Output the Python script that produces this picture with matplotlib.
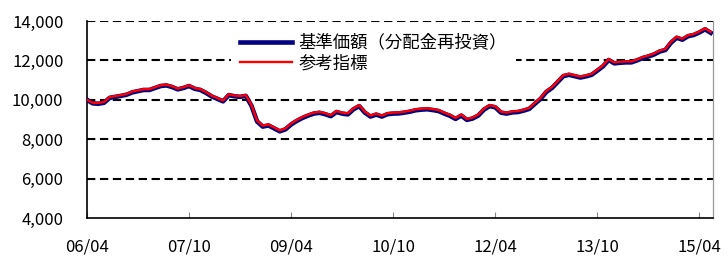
import matplotlib
matplotlib.use("Agg")
import matplotlib.pyplot as plt
import numpy as np

plt.rcParams["font.family"] = ["Noto Sans CJK JP", "DejaVu Sans"]

# ── data: monthly values, 2006/04 .. 2015/06 ─────────────────────────────────
start_year, start_month = 2006, 4

fund = [
    10000, 9820, 9800, 9850, 10100, 10150, 10200, 10260, 10380, 10440,
    10500, 10500, 10600, 10700, 10730, 10650, 10530, 10600, 10700, 10560,
    10500, 10350, 10170, 10050, 9920, 10240, 10180, 10150, 10200, 9700,
    8900, 8640, 8700, 8550, 8400, 8500, 8750, 8930, 9080, 9200,
    9300, 9340, 9270, 9170, 9380, 9300, 9260, 9520, 9680, 9350,
    9150, 9250, 9150, 9270, 9300, 9310, 9350, 9400, 9470, 9500,
    9520, 9480, 9430, 9300, 9190, 9030, 9200, 8980, 9050, 9200,
    9500, 9680, 9620, 9350, 9300, 9360, 9380, 9450, 9540, 9800,
    10050, 10400, 10600, 10900, 11200, 11270, 11200, 11130, 11190, 11270,
    11480, 11700, 12020, 11850, 11880, 11900, 11900, 12000, 12120, 12200,
    12300, 12450, 12530, 12900, 13150, 13050, 13230, 13290, 13420, 13580,
    13400,
]

benchmark = [
    10000, 9850, 9840, 9890, 10140, 10190, 10240, 10300, 10420, 10480,
    10540, 10540, 10640, 10740, 10770, 10690, 10570, 10640, 10740, 10600,
    10540, 10390, 10210, 10090, 9960, 10280, 10220, 10190, 10240, 9740,
    8940, 8690, 8750, 8600, 8450, 8550, 8800, 8980, 9130, 9250,
    9350, 9390, 9320, 9220, 9430, 9350, 9310, 9570, 9730, 9400,
    9200, 9300, 9200, 9320, 9350, 9360, 9400, 9450, 9520, 9550,
    9570, 9530, 9480, 9350, 9240, 9080, 9250, 9030, 9100, 9250,
    9550, 9730, 9670, 9400, 9350, 9410, 9430, 9500, 9590, 9850,
    10100, 10450, 10650, 10950, 11250, 11320, 11250, 11180, 11240, 11320,
    11530, 11750, 12070, 11900, 11930, 11950, 11950, 12050, 12170, 12250,
    12350, 12500, 12580, 12950, 13200, 13100, 13280, 13340, 13470, 13630,
    13450,
]

tick_labels = ["06/04", "07/10", "09/04", "10/10", "12/04", "13/10", "15/04"]
y_ticks = [4000, 6000, 8000, 10000, 12000, 14000]

fund_label = "基準価額（分配金再投資）"
bench_label = "参考指標"


def month_index(lbl):
    yy, mm = lbl.split("/")
    return (2000 + int(yy) - start_year) * 12 + int(mm) - start_month


# ── plot ─────────────────────────────────────────────────────────────────────
fig = plt.figure(figsize=(7.28, 2.56), dpi=100)
ax = fig.add_axes([87 / 728, 1 - 218 / 256, 626 / 728, 197 / 256])

x = np.arange(len(fund))
ax.plot(x, fund, color="#000080", linewidth=3.3, solid_joinstyle="round",
        label=fund_label, zorder=3)
ax.plot(x, benchmark, color="#ff0000", linewidth=1.7, label=bench_label, zorder=4)

for v in y_ticks[1:]:
    ax.axhline(v, color="black", linewidth=1.5, linestyle=(0, (4, 2.2)), zorder=1)

ax.set_xlim(0, 110.4)
ax.set_ylim(y_ticks[0], y_ticks[-1])
ax.set_yticks(y_ticks)
ax.set_yticklabels([f"{v:,}" for v in y_ticks])
ax.set_xticks([month_index(t) for t in tick_labels])
ax.set_xticklabels(tick_labels)

ax.tick_params(axis="y", length=0, pad=17, labelsize=12)
ax.tick_params(axis="x", direction="in", length=4, width=0.8, color="#888888",
               pad=15, labelsize=12)

ax.spines["top"].set_visible(False)
ax.spines["left"].set_linewidth(1.2)
ax.spines["bottom"].set_linewidth(1.2)
ax.spines["right"].set_color("#999999")
ax.spines["right"].set_linewidth(0.9)

leg = ax.legend(loc="upper left", bbox_to_anchor=(0.23, 0.98), fontsize=12.5,
                frameon=True, fancybox=False, framealpha=1, edgecolor="none",
                handlelength=3.0, handletextpad=0.4, labelspacing=0.15,
                borderpad=0.5, borderaxespad=0)
leg.set_zorder(5)

fig.savefig("out.png", dpi=100)
